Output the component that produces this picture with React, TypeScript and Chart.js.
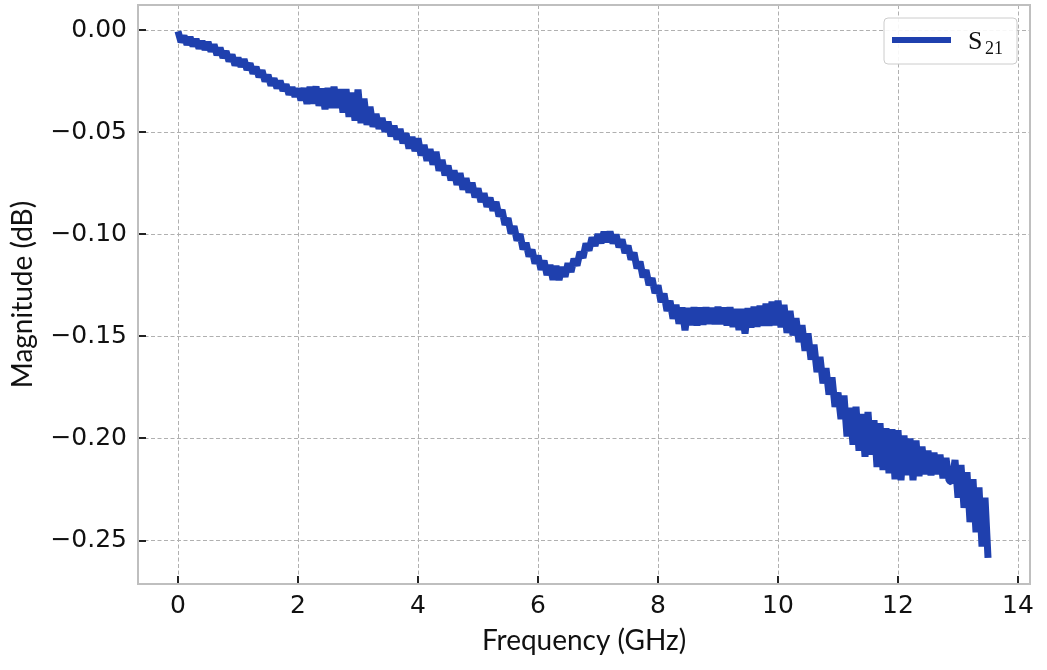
import { useEffect, useRef } from "react";
import { Chart, registerables } from "chart.js";

Chart.register(...registerables);

// S21 magnitude (dB), every 0.05 GHz from 0 to 13.5 GHz.
// The trace is noisy, so the values step between the upper and lower edge of the band.
const FREQ_STEP_GHZ = 0.05;
const s21Db = [
  -0.0005, -0.0058, -0.0027, -0.0070, -0.0033, -0.0077, -0.0043, -0.0089, -0.0053, -0.0095,
  -0.0058, -0.0103, -0.0070, -0.0121, -0.0086, -0.0135, -0.0103, -0.0152, -0.0119, -0.0172,
  -0.0135, -0.0178, -0.0142, -0.0193, -0.0162, -0.0212, -0.0180, -0.0229, -0.0196, -0.0250,
  -0.0219, -0.0270, -0.0236, -0.0284, -0.0247, -0.0296, -0.0265, -0.0315, -0.0279, -0.0325,
  -0.0285, -0.0344, -0.0283, -0.0360, -0.0277, -0.0359, -0.0275, -0.0370, -0.0285, -0.0387,
  -0.0283, -0.0380, -0.0277, -0.0380, -0.0288, -0.0403, -0.0288, -0.0424, -0.0305, -0.0443,
  -0.0290, -0.0455, -0.0335, -0.0463, -0.0375, -0.0473, -0.0410, -0.0483, -0.0430, -0.0497,
  -0.0448, -0.0519, -0.0467, -0.0535, -0.0483, -0.0553, -0.0505, -0.0579, -0.0523, -0.0592,
  -0.0530, -0.0613, -0.0562, -0.0639, -0.0583, -0.0658, -0.0595, -0.0688, -0.0635, -0.0710,
  -0.0663, -0.0735, -0.0687, -0.0757, -0.0700, -0.0780, -0.0725, -0.0795, -0.0747, -0.0818,
  -0.0775, -0.0841, -0.0799, -0.0865, -0.0820, -0.0884, -0.0841, -0.0911, -0.0880, -0.0953,
  -0.0921, -0.0995, -0.0960, -0.1030, -0.0999, -0.1073, -0.1041, -0.1108, -0.1075, -0.1143,
  -0.1105, -0.1173, -0.1129, -0.1199, -0.1150, -0.1222, -0.1155, -0.1223, -0.1160, -0.1208,
  -0.1142, -0.1184, -0.1120, -0.1153, -0.1086, -0.1115, -0.1045, -0.1079, -0.1015, -0.1056,
  -0.0998, -0.1043, -0.0988, -0.1037, -0.0987, -0.1044, -0.1001, -0.1063, -0.1025, -0.1091,
  -0.1055, -0.1123, -0.1090, -0.1166, -0.1134, -0.1210, -0.1175, -0.1248, -0.1214, -0.1288,
  -0.1250, -0.1332, -0.1290, -0.1375, -0.1325, -0.1413, -0.1345, -0.1438, -0.1358, -0.1470,
  -0.1360, -0.1445, -0.1357, -0.1446, -0.1358, -0.1442, -0.1358, -0.1438, -0.1360, -0.1440,
  -0.1355, -0.1440, -0.1358, -0.1446, -0.1357, -0.1454, -0.1365, -0.1468, -0.1365, -0.1486,
  -0.1362, -0.1456, -0.1355, -0.1453, -0.1350, -0.1448, -0.1340, -0.1448, -0.1330, -0.1445,
  -0.1325, -0.1455, -0.1345, -0.1483, -0.1375, -0.1495, -0.1410, -0.1528, -0.1445, -0.1570,
  -0.1485, -0.1613, -0.1540, -0.1675, -0.1600, -0.1730, -0.1655, -0.1785, -0.1700, -0.1845,
  -0.1775, -0.1905, -0.1790, -0.1990, -0.1850, -0.2030, -0.1845, -0.2060, -0.1880, -0.2090,
  -0.1870, -0.2080, -0.1910, -0.2140, -0.1925, -0.2155, -0.1950, -0.2170, -0.1955, -0.2200,
  -0.1960, -0.2205, -0.1985, -0.2180, -0.2000, -0.2205, -0.2010, -0.2185, -0.2040, -0.2175,
  -0.2060, -0.2180, -0.2070, -0.2175, -0.2080, -0.2195, -0.2095, -0.2205, -0.2215, -0.2105,
  -0.2290, -0.2130, -0.2340, -0.2165, -0.2410, -0.2200, -0.2460, -0.2240, -0.2530, -0.2290,
  -0.2585,
];

const xTicks = [0, 2, 4, 6, 8, 10, 12, 14];
const yTicks = [-0.25, -0.2, -0.15, -0.1, -0.05, 0];

const LINE_COLOR = "#1f40ae";
const TICK_FONT = "'DejaVu Sans', sans-serif";
const TITLE_FONT = "Lato, 'Open Sans', sans-serif";

// box round the plot plus short inward tick marks, like the matplotlib style
const framePlugin = {
  id: "frame",
  afterDraw(chart: Chart) {
    const { ctx, chartArea: a, scales } = chart;
    ctx.save();
    ctx.strokeStyle = "#222";
    ctx.lineWidth = 2;
    ctx.beginPath();
    xTicks.forEach((v) => {
      const px = Math.round(scales.x.getPixelForValue(v));
      ctx.moveTo(px, a.bottom);
      ctx.lineTo(px, a.bottom - 8);
    });
    yTicks.forEach((v) => {
      const py = Math.round(scales.y.getPixelForValue(v));
      ctx.moveTo(a.left, py);
      ctx.lineTo(a.left + 8, py);
    });
    ctx.stroke();
    ctx.strokeStyle = "#bfbfbf";
    ctx.lineWidth = 2;
    ctx.strokeRect(a.left, a.top, a.right - a.left, a.bottom - a.top);
    ctx.restore();
  },
};

// legend with a real subscript on S21
const legendPlugin = {
  id: "s21Legend",
  afterDraw(chart: Chart) {
    const { ctx, chartArea: a } = chart;
    const right = a.right - 13;
    const left = right - 133;
    const top = a.top + 13;
    const h = 46;
    ctx.save();
    ctx.beginPath();
    ctx.roundRect(left, top, right - left, h, 4);
    ctx.fillStyle = "rgba(255,255,255,0.9)";
    ctx.fill();
    ctx.strokeStyle = "#cccccc";
    ctx.lineWidth = 1;
    ctx.stroke();

    ctx.beginPath();
    ctx.strokeStyle = LINE_COLOR;
    ctx.lineWidth = 6;
    ctx.moveTo(left + 8, top + 22);
    ctx.lineTo(left + 67, top + 22);
    ctx.stroke();

    ctx.fillStyle = "#111";
    ctx.textBaseline = "alphabetic";
    ctx.font = "26px 'Liberation Serif', serif";
    ctx.fillText("S", left + 84, top + 31);
    ctx.font = "18px 'Liberation Serif', serif";
    ctx.fillText("21", left + 101, top + 36);
    ctx.restore();
  },
};

export default function App() {
  const canvasRef = useRef<HTMLCanvasElement>(null);
  const chartRef = useRef<Chart | null>(null);

  useEffect(() => {
    if (!canvasRef.current) return;
    if (chartRef.current) chartRef.current.destroy();

    const points = s21Db.map((y, i) => ({ x: i * FREQ_STEP_GHZ, y }));

    chartRef.current = new Chart(canvasRef.current, {
      type: "line",
      data: {
        datasets: [
          {
            label: "S21",
            data: points,
            borderColor: LINE_COLOR,
            backgroundColor: LINE_COLOR,
            borderWidth: 7,
            borderJoinStyle: "bevel",
            borderCapStyle: "butt",
            pointRadius: 0,
            tension: 0,
          },
        ],
      },
      options: {
        animation: false,
        responsive: false,
        layout: { padding: { top: 5, right: 17, left: 0, bottom: 0 } },
        plugins: {
          legend: { display: false },
          tooltip: { enabled: false },
        },
        scales: {
          x: {
            type: "linear",
            min: -0.667,
            max: 14.2,
            afterBuildTicks: (scale: any) => {
              scale.ticks = xTicks.map((value) => ({ value }));
            },
            afterFit: (scale: any) => {
              scale.height = 86;
              scale.paddingLeft = 0;
              scale.paddingRight = 0;
            },
            grid: { color: "#b0b0b0", lineWidth: 1, drawTicks: false },
            border: { display: false, dash: [4, 2.5] },
            ticks: {
              padding: 7,
              color: "#111",
              font: { family: TICK_FONT, size: 25 },
              callback: (v: any) => String(v),
            },
            title: {
              display: true,
              text: "Frequency (GHz)",
              color: "#111",
              font: { family: TITLE_FONT, size: 28 },
              padding: { bottom: 12 },
            },
          },
          y: {
            type: "linear",
            min: -0.2713,
            max: 0.0124,
            afterBuildTicks: (scale: any) => {
              scale.ticks = yTicks.map((value) => ({ value }));
            },
            afterFit: (scale: any) => {
              scale.width = 138;
              scale.paddingTop = 0;
              scale.paddingBottom = 0;
            },
            grid: { color: "#b0b0b0", lineWidth: 1, drawTicks: false },
            border: { display: false, dash: [4, 2.5] },
            ticks: {
              padding: 11,
              color: "#111",
              font: { family: TICK_FONT, size: 25 },
              callback: (v: any) => {
                const n = Number(v);
                return (n < -1e-9 ? "\u2212" : "") + Math.abs(n).toFixed(2);
              },
            },
            title: {
              display: true,
              text: "Magnitude (dB)",
              color: "#111",
              font: { family: TITLE_FONT, size: 28 },
              padding: { top: 6 },
            },
          },
        },
      },
      plugins: [framePlugin, legendPlugin],
    });

    return () => {
      if (chartRef.current) {
        chartRef.current.destroy();
        chartRef.current = null;
      }
    };
  }, []);

  return (
    <div style={{ position: "absolute", left: 0, top: 0, width: 1047, height: 670, background: "#fff" }}>
      <canvas ref={canvasRef} width={1047} height={670} />
    </div>
  );
}
